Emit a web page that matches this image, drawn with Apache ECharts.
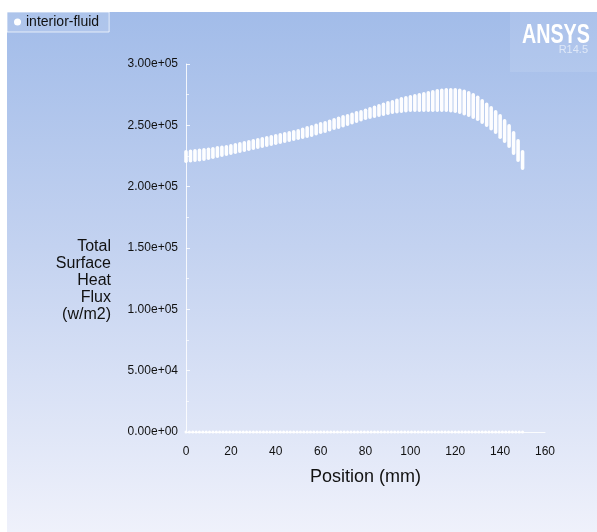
<!DOCTYPE html>
<html>
<head>
<meta charset="utf-8">
<script src="https://cdn.jsdelivr.net/npm/echarts@6/dist/echarts.min.js"></script>
<style>
    body { margin: 0; background: #ffffff; }
    #panel {
        position: absolute; left: 7px; top: 12px; right: 0; bottom: 0;
        background: linear-gradient(to bottom, #a2bce9 0%, #c3d2f0 45%, #eff1fb 100%);
    }
    #chart { position: absolute; left: 0; top: 0; width: 597px; height: 532px; }
</style>
</head>
<body>
<div id="panel"></div>
<div id="chart"></div>
<script>
    // face centroids along the wall (mm) and the spread of flux at each one (x1000 w/m2)
    var colPos = [0, 2, 4, 6, 8, 10, 12, 14, 16, 18, 20, 22, 24, 26, 28, 30, 32, 34, 36, 38,
        40, 42, 44, 46, 48, 50, 52, 54, 56, 58, 60, 62, 64, 66, 68, 70, 72, 74, 76, 78,
        80, 82, 84, 86, 88, 90, 92, 94, 96, 98, 100, 102, 104, 106, 108, 110, 112, 114, 116, 118,
        120, 122, 124, 126, 128, 130, 132, 134, 136, 138, 140, 142, 144, 146, 148, 150];
    var colHigh = [229.9, 230.3, 230.7, 231.1, 231.5, 231.9, 232.3, 233.1, 233.6, 234.0,
        234.8, 235.6, 236.4, 237.2, 238.0, 238.8, 239.7, 240.5, 241.3, 242.1,
        242.9, 243.7, 244.6, 245.4, 246.2, 247.0, 248.2, 249.5, 250.3, 251.5,
        252.7, 253.5, 254.8, 256.0, 257.2, 258.4, 259.2, 260.5, 261.7, 262.5,
        263.7, 264.9, 266.2, 267.4, 268.6, 269.8, 270.7, 271.9, 273.1, 273.9,
        274.7, 275.5, 276.4, 277.2, 278.0, 278.8, 279.6, 280.0, 280.4, 280.4,
        280.4, 280.0, 279.2, 278.0, 276.4, 274.3, 271.5, 268.6, 265.7, 262.5,
        259.2, 255.2, 251.1, 245.4, 238.9, 229.9];
    var colLow = [219.3, 219.7, 220.1, 220.5, 220.9, 221.7, 222.6, 223.4, 224.2, 225.0,
        225.8, 226.6, 227.4, 228.3, 229.1, 229.9, 230.7, 231.5, 232.3, 233.1,
        234.0, 234.8, 235.6, 236.4, 237.2, 238.0, 238.9, 239.7, 240.5, 241.7,
        242.9, 243.7, 245.0, 246.2, 247.0, 248.2, 249.5, 250.7, 251.9, 253.1,
        254.3, 255.2, 256.0, 256.8, 257.6, 258.4, 259.2, 259.6, 260.0, 260.5,
        260.9, 260.9, 260.9, 260.9, 260.9, 260.9, 260.9, 260.9, 260.9, 260.5,
        260.0, 259.2, 258.0, 256.8, 255.2, 253.5, 251.1, 248.6, 245.8, 242.9,
        238.9, 235.6, 231.5, 225.8, 220.1, 213.6];

    // interior faces with zero flux
    var zeroPos = [0, 1.5, 3, 4.5, 6, 7.5, 9, 10.5, 12, 13.5, 15, 16.5, 18, 19.5, 21, 22.5, 24, 25.5, 27, 28.5,
        30, 31.5, 33, 34.5, 36, 37.5, 39, 40.5, 42, 43.5, 45, 46.5, 48, 49.5, 51, 52.5, 54, 55.5, 57, 58.5,
        60, 61.5, 63, 64.5, 66, 67.5, 69, 70.5, 72, 73.5, 75, 76.5, 78, 79.5, 81, 82.5, 84, 85.5, 87, 88.5,
        90, 91.5, 93, 94.5, 96, 97.5, 99, 100.5, 102, 103.5, 105, 106.5, 108, 109.5, 111, 112.5, 114, 115.5, 117, 118.5,
        120, 121.5, 123, 124.5, 126, 127.5, 129, 130.5, 132, 133.5, 135, 136.5, 138, 139.5, 141, 142.5, 144, 145.5, 147, 148.5,
        150];
    var zeroVal = [0, 0, 0, 0, 0, 0, 0, 0, 0, 0, 0, 0, 0, 0, 0, 0, 0, 0, 0, 0,
        0, 0, 0, 0, 0, 0, 0, 0, 0, 0, 0, 0, 0, 0, 0, 0, 0, 0, 0, 0,
        0, 0, 0, 0, 0, 0, 0, 0, 0, 0, 0, 0, 0, 0, 0, 0, 0, 0, 0, 0,
        0, 0, 0, 0, 0, 0, 0, 0, 0, 0, 0, 0, 0, 0, 0, 0, 0, 0, 0, 0,
        0, 0, 0, 0, 0, 0, 0, 0, 0, 0, 0, 0, 0, 0, 0, 0, 0, 0, 0, 0,
        0];

    var narrow = "'Liberation Sans Narrow', 'Liberation Sans', Arial, sans-serif";
    var regular = "'Liberation Sans', Arial, sans-serif";

    var colData = colPos.map(function (p, i) {
        return [p, colLow[i] * 1000, colHigh[i] * 1000];
    });
    var zeroData = zeroPos.map(function (p, i) {
        return [p, zeroVal[i]];
    });

    function sci(v) {
        if (v === 0) return '0.00e+00';
        var e = Math.floor(Math.log10(v));
        var m = (v / Math.pow(10, e)).toFixed(2);
        return m + 'e+' + (e < 10 ? '0' + e : e);
    }

    var chart = echarts.init(document.getElementById('chart'), null, {renderer: 'canvas'});

    chart.setOption({
        backgroundColor: 'transparent',
        animation: false,
        grid: {left: 186, right: 52, top: 64, bottom: 100},
        legend: {
            left: 7, top: 12,
            padding: [3, 10, 3, 7],
            backgroundColor: 'rgba(255,255,255,0.12)',
            borderColor: 'rgba(255,255,255,0.7)',
            borderWidth: 1,
            icon: 'circle',
            itemWidth: 7, itemHeight: 7,
            itemGap: 6,
            data: ['interior-fluid'],
            textStyle: {color: '#111', fontSize: 14, fontFamily: regular}
        },
        xAxis: {
            type: 'value',
            min: 0, max: 160, interval: 20,
            name: 'Position (mm)',
            nameLocation: 'middle',
            nameGap: 36,
            nameTextStyle: {color: '#111', fontSize: 18, fontFamily: regular},
            axisLine: {show: true, onZero: false, lineStyle: {color: 'rgba(255,255,255,0.85)', width: 1}},
            axisTick: {show: false},
            splitLine: {show: false},
            axisLabel: {color: '#111', fontSize: 12, fontFamily: narrow, margin: 14}
        },
        yAxis: {
            type: 'value',
            min: 0, max: 300000, interval: 50000,
            axisLine: {show: true, lineStyle: {color: 'rgba(255,255,255,0.85)', width: 1}},
            axisTick: {show: true, inside: true, length: 4, lineStyle: {color: 'rgba(255,255,255,0.85)'}},
            minorTick: {show: true, splitNumber: 2, length: 3, lineStyle: {color: 'rgba(255,255,255,0.7)'}},
            splitLine: {show: false},
            axisLabel: {color: '#111', fontSize: 12, fontFamily: narrow, margin: 8, formatter: sci}
        },
        graphic: [
            {
                type: 'rect', left: 510, top: 12, z: 1, silent: true,
                shape: {width: 87, height: 60},
                style: {fill: 'rgba(255,255,255,0.1)'}
            },
            {
                type: 'text', x: 522, y: 22, z: 2, scaleX: 0.73, silent: true,
                style: {
                    text: 'ANSYS', fill: '#ffffff',
                    font: "bold 27px 'Liberation Sans', Arial, sans-serif",
                    align: 'left', textAlign: 'left',
                    verticalAlign: 'top', textVerticalAlign: 'top'
                }
            },
            {
                type: 'text', x: 588, y: 44, z: 2, silent: true,
                style: {
                    text: 'R14.5', fill: 'rgba(255,255,255,0.6)',
                    font: "11px 'Liberation Sans Narrow', 'Liberation Sans', Arial, sans-serif",
                    align: 'right', textAlign: 'right',
                    verticalAlign: 'top', textVerticalAlign: 'top'
                }
            },
            {
                type: 'text', x: 111, y: 238, z: 2, silent: true,
                style: {
                    text: 'Total\nSurface\nHeat\nFlux\n(w/m2)', fill: '#111',
                    font: "16px 'Liberation Sans', Arial, sans-serif",
                    lineHeight: 17,
                    align: 'right', textAlign: 'right',
                    verticalAlign: 'top', textVerticalAlign: 'top'
                }
            }
        ],
        series: [
            {
                name: 'interior-fluid',
                type: 'custom',
                data: colData,
                itemStyle: {color: '#ffffff'},
                renderItem: function (params, api) {
                    var top = api.coord([api.value(0), api.value(2)]);
                    var bot = api.coord([api.value(0), api.value(1)]);
                    var h = Math.max(bot[1] - top[1], 5);
                    return {
                        type: 'rect',
                        shape: {x: top[0] - 1.8, y: top[1], width: 3.6, height: h, r: 1.8},
                        style: {fill: '#ffffff', opacity: 0.97}
                    };
                }
            },
            {
                name: 'interior-fluid',
                type: 'scatter',
                data: zeroData,
                symbol: 'circle',
                symbolSize: 3,
                itemStyle: {color: '#ffffff', opacity: 1}
            }
        ]
    });
</script>
</body>
</html>
